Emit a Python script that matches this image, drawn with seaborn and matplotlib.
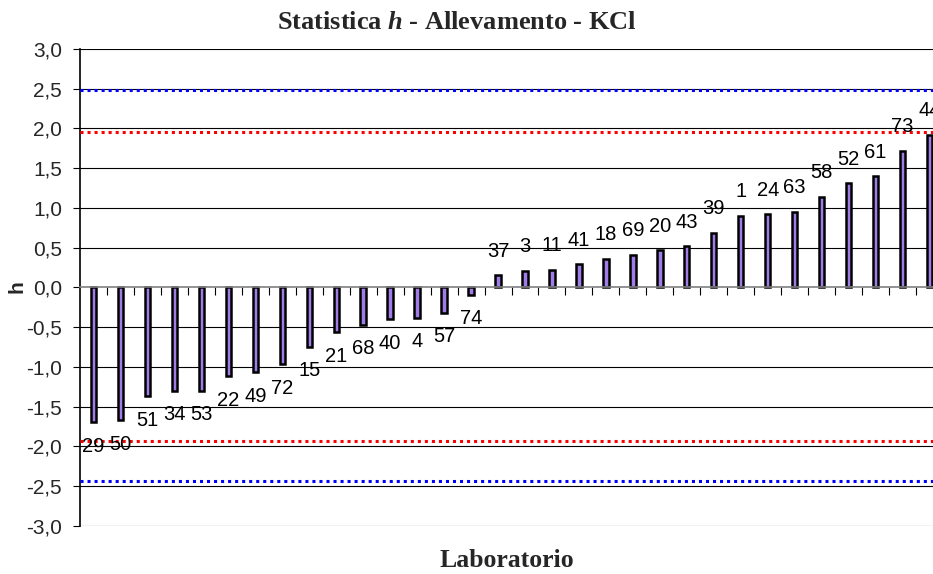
import numpy as np
import pandas as pd
import matplotlib
matplotlib.use("Agg")
import matplotlib.pyplot as plt
import seaborn as sns
from matplotlib.ticker import FuncFormatter

# ---- data ----
labs = ["29", "50", "51", "34", "53", "22", "49", "72", "15", "21", "68", "40", "4", "57", "74",
        "37", "3", "11", "41", "18", "69", "20", "43", "39", "1", "24", "63", "58", "52", "61", "73", "44"]
h_vals = [-1.70, -1.67, -1.37, -1.30, -1.30, -1.12, -1.07, -0.97, -0.75, -0.565, -0.47, -0.40, -0.38, -0.32, -0.09,
          0.155, 0.21, 0.22, 0.29, 0.36, 0.41, 0.465, 0.515, 0.69, 0.90, 0.92, 0.95, 1.14, 1.31, 1.40, 1.72, 1.92]
red_limits = [1.96, -1.93]
blue_limits = [2.49, -2.44]
y_ticks = [-3.0, -2.5, -2.0, -1.5, -1.0, -0.5, 0.0, 0.5, 1.0, 1.5, 2.0, 2.5, 3.0]

df = pd.DataFrame({"Laboratorio": labs, "h": h_vals})

sns.set_style("white")
plt.rcParams["font.family"] = ["Liberation Sans", "DejaVu Sans"]
plt.rcParams["mathtext.fontset"] = "custom"
plt.rcParams["mathtext.it"] = "Liberation Serif:style=italic:weight=bold"
plt.rcParams["mathtext.rm"] = "Liberation Serif:weight=bold"

W, H = 933, 574
fig = plt.figure(figsize=(W / 100, H / 100), dpi=100)
ax = fig.add_axes([80 / W, 1 - 525.7 / H, 863 / W, (525.7 - 49) / H])

sns.barplot(data=df, x="Laboratorio", y="h", order=labs, ax=ax, width=0.2,
            color="#A07CE8", edgecolor="black", linewidth=1.8, saturation=1, errorbar=None)

ax.set_xlim(-0.5, len(labs) - 0.5)
ax.set_ylim(-3.0, 3.0)

# gridlines
for yv in y_ticks:
    if yv == 0:
        continue
    ax.axhline(yv, color="#000000", lw=0.8, zorder=0.5)

# limit lines
for v in red_limits:
    ax.axhline(v, color="#FF0000", lw=2.2, linestyle=(0, (1, 1.3)), zorder=3)
for v in blue_limits:
    ax.axhline(v, color="#0000FF", lw=2.2, linestyle=(0, (1, 1.3)), zorder=3)

# spines
for s in ["top", "right"]:
    ax.spines[s].set_visible(False)
ax.spines["bottom"].set_position(("data", 0))
ax.spines["bottom"].set_color("#808080")
ax.spines["bottom"].set_linewidth(1.2)
ax.spines["left"].set_color("black")
ax.spines["left"].set_linewidth(1.2)

ax.set_xticks(np.arange(0.5, len(labs) - 0.5, 1))
ax.set_xticklabels([])
ax.tick_params(axis="x", direction="out", length=6, width=0.8, color="black", bottom=True)

ax.set_yticks(y_ticks)
ax.yaxis.set_major_formatter(FuncFormatter(lambda v, p: f"{v:.1f}".replace(".", ",")))
ax.tick_params(axis="y", direction="out", length=5, width=0.8, color="black", labelsize=15, pad=8, left=True)

ax.set_xlabel("")
ax.set_ylabel("")

# data labels
for i, (lab, v) in enumerate(zip(labs, h_vals)):
    off = 24 if v >= 0 else -24
    ax.annotate(lab, (i, v), xytext=(0, off), textcoords="offset pixels",
                ha="center", va="center", fontsize=14.5, color="black", annotation_clip=False)

fig.text(457 / W, 1 - 29 / H, r"Statistica $\mathit{h}$ - Allevamento - KCl",
         ha="center", va="baseline", fontsize=19, fontweight="bold", family="Liberation Serif")
fig.text(507 / W, 1 - 567 / H, "Laboratorio", ha="center", va="baseline",
         fontsize=18.5, fontweight="bold", family="Liberation Serif")
fig.text(17 / W, 1 - 287 / H, "h", ha="center", va="center", rotation=90,
         fontsize=15, fontweight="bold")

fig.savefig("out.png", dpi=100)
